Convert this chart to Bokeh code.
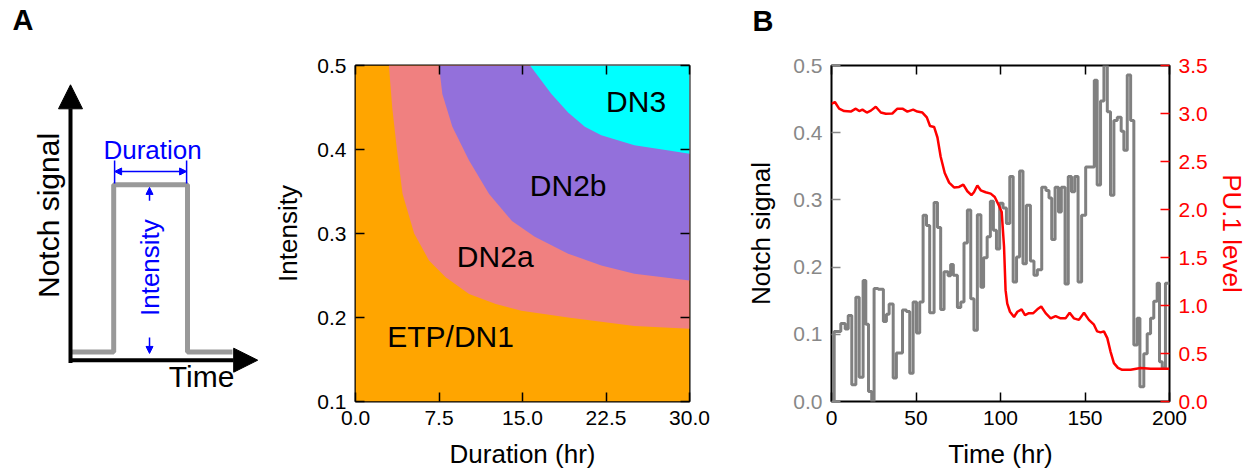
import math
from bokeh.plotting import figure
from bokeh.layouts import row
from bokeh.models import (Range1d, LinearAxis, Label, Arrow, NormalHead,
                          FixedTicker, NumeralTickFormatter)
from bokeh.core.properties import value
from bokeh.embed import file_html
from bokeh.resources import INLINE

FONT = "Liberation Sans"

# ---------------- schematic (panel A, left) ----------------
pulse_time = [0.0, 2.4, 2.4, 6.5, 6.5, 9.0]
pulse_signal = [0.2, 0.2, 6.4, 6.4, 0.2, 0.2]

# ---------------- phase diagram (panel A, right) ----------------
dur_ticks = [0.0, 7.5, 15.0, 22.5, 30.0]
int_ticks = [0.1, 0.2, 0.3, 0.4, 0.5]
# boundary ETP/DN1 | DN2a
b1_dur = [3.0, 3.3, 3.72, 4.23, 5.27, 6.6, 8.1, 10.2, 12.6, 14.9, 19.1, 25.05, 30.0]
b1_int = [0.5, 0.45, 0.4, 0.347, 0.3, 0.268, 0.248, 0.228, 0.216, 0.208, 0.2, 0.19, 0.1865]
# boundary DN2a | DN2b
b2_dur = [7.5, 7.8, 8.7, 10.2, 12.0, 14.05, 16.1, 19.1, 22.08, 25.05, 30.0]
b2_int = [0.5, 0.466, 0.427, 0.387, 0.347, 0.315, 0.296, 0.276, 0.262, 0.252, 0.244]
# boundary DN2b | DN3
b3_dur = [15.68, 17.6, 19.1, 20.6, 22.08, 25.05, 28.0, 30.0]
b3_int = [0.5, 0.466, 0.444, 0.427, 0.417, 0.405, 0.399, 0.395]
region_names = ["ETP/DN1", "DN2a", "DN2b", "DN3"]
region_dur = [8.54, 12.55, 19.1, 25.2]
region_int = [0.1774, 0.2732, 0.357, 0.4577]
region_colors = ["#FFA500", "#F08080", "#9370DB", "#00FFFF"]

# ---------------- time course (panel B) ----------------
time_ticks = [0, 50, 100, 150, 200]
notch_ticks = [0.0, 0.1, 0.2, 0.3, 0.4, 0.5]
pu1_ticks = [0.0, 0.5, 1.0, 1.5, 2.0, 2.5, 3.0, 3.5]
notch_t = [0, 1.6, 5.5, 8.1, 9.9, 12.0, 14.4, 16.4, 18.7, 20.3, 21.9, 23.8,
           25.2, 27.6, 30.7, 32.5, 34.1, 36.5, 38.4, 42.0, 44.3, 46.3, 48.3,
           50.3, 52.2, 54.2, 56.2, 58.1, 60.7, 62.7, 64.6, 66.6, 69.0, 70.5,
           72.1, 74.5, 76.5, 78.4, 80.4, 82.4, 84.3, 86.3, 88.4, 90.0, 92.1,
           94.0, 95.8, 97.6, 99.5, 101.5, 103.5, 105.5, 107.5, 109.5, 111.3,
           113.3, 115.3, 117.7, 119.8, 121.8, 124.4, 126.9, 128.7, 130.3,
           132.3, 134.3, 136.0, 138.2, 140.1, 142.0, 143.9, 145.9, 148.0,
           150.4, 155.5, 157.2, 159.2, 161.2, 163.2, 165.1, 167.1, 169.1,
           171.4, 173.0, 175.0, 177.0, 178.9, 180.9, 182.5, 184.8, 186.8,
           188.8, 190.7, 192.7, 194.1, 195.7, 197.6]
notch_v = [0.0, 0.104, 0.116, 0.108, 0.128, 0.025, 0.155, 0.036, 0.180, 0.115,
           0.015, 0.0, 0.168, 0.167, 0.119, 0.130, 0.145, 0.035, 0.072, 0.136,
           0.134, 0.042, 0.148, 0.102, 0.148, 0.277, 0.262, 0.132, 0.296,
           0.259, 0.137, 0.193, 0.187, 0.204, 0.188, 0.140, 0.148, 0.236,
           0.285, 0.153, 0.106, 0.278, 0.170, 0.214, 0.245, 0.298, 0.255,
           0.227, 0.295, 0.288, 0.265, 0.335, 0.178, 0.215, 0.343, 0.205,
           0.292, 0.209, 0.188, 0.196, 0.319, 0.314, 0.303, 0.241, 0.319,
           0.282, 0.319, 0.175, 0.335, 0.312, 0.335, 0.178, 0.277, 0.349,
           0.478, 0.322, 0.447, 0.5, 0.431, 0.307, 0.418, 0.423, 0.402,
           0.374, 0.486, 0.418, 0.084, 0.124, 0.022, 0.071, 0.101, 0.124,
           0.149, 0.176, 0.059, 0.050, 0.176]
pu1_t = [0, 2, 4.5, 7.5, 11.4, 14.4, 16.4, 18.3, 20.9, 23.3, 26.2, 29.2, 32.1,
         36, 39, 42, 44.9, 48.3, 50.8, 53.8, 56.4, 58.3, 60.7, 62.7, 64.6, 67,
         69.6, 72.5, 75.5, 78, 80.4, 82.8, 84.3, 86.3, 88.3, 91.2, 94.2, 96.6,
         99.1, 100.7, 102.1, 103, 104, 105.6, 108, 110, 112.5, 114.5, 116.8,
         119.4, 121.8, 124.1, 126.7, 129.7, 132.6, 135.6, 138.5, 140.9, 143.4,
         146.4, 149.4, 152.3, 155.3, 157.2, 159.2, 161.2, 163.2, 165.1, 167.1,
         169.5, 172, 177, 182.9, 188.8, 200]
pu1_v = [3.10, 3.12, 3.05, 3.025, 3.02, 3.05, 3.025, 3.04, 3.01, 3.03, 3.07,
         3.01, 2.997, 3.0, 3.05, 3.05, 3.02, 3.04, 3.02, 3.01, 2.96, 2.87,
         2.86, 2.75, 2.55, 2.38, 2.28, 2.23, 2.235, 2.26, 2.19, 2.15, 2.18,
         2.25, 2.2, 2.18, 2.165, 2.13, 2.04, 1.975, 1.61, 1.16, 1.02, 0.935,
         0.88, 0.935, 0.96, 0.9, 0.92, 0.92, 0.96, 0.99, 0.92, 0.866, 0.89,
         0.866, 0.866, 0.925, 0.866, 0.85, 0.925, 0.85, 0.8, 0.73, 0.72, 0.73,
         0.66, 0.52, 0.4, 0.35, 0.33, 0.33, 0.35, 0.34, 0.34]


def style_axis(ax, label_color="black", tick_color="black", show_labels=True):
    ax.axis_line_color = None
    ax.major_tick_in = 9
    ax.major_tick_out = 0
    ax.minor_tick_line_color = None
    ax.major_tick_line_color = tick_color
    ax.major_tick_line_width = 1.5
    ax.major_label_text_font = FONT
    if show_labels:
        ax.major_label_text_color = label_color
        ax.major_label_text_font_size = "21px"
        ax.major_label_standoff = 9
    else:
        ax.major_label_text_color = None
        ax.major_label_text_font_size = "1px"
        ax.major_label_standoff = 0
    ax.axis_label_text_font = FONT
    ax.axis_label_text_font_size = "26px"
    ax.axis_label_text_font_style = "normal"
    ax.axis_label_text_color = "black"


def base_fig(width, xr, yr, left, right):
    p = figure(width=width, height=471, x_range=xr, y_range=yr,
               output_backend="svg", toolbar_location=None,
               min_border_left=left, min_border_right=right,
               min_border_top=65, min_border_bottom=70)
    p.grid.visible = False
    p.outline_line_color = "black"
    p.outline_line_width = 2
    p.background_fill_color = "white"
    p.border_fill_color = "white"
    return p


def panel_title(p, letter, offset, standoff):
    # second (blank) line lifts the panel letter into the top margin
    p.title.text = letter + "\n "
    p.title.text_line_height = 0.8
    p.title.align = "left"
    p.title.offset = offset
    p.title.standoff = standoff
    p.title.vertical_align = "top"
    p.title.text_font = FONT
    p.title.text_font_size = "29px"
    p.title.text_font_style = "bold"
    p.title.text_color = "black"

# ================= Panel A schematic =================
pa = figure(width=270, height=471, x_range=Range1d(-70 / 18, 200 / 18),
            y_range=Range1d((357 - 401) / 27, (357 - 65) / 27),
            output_backend="svg", toolbar_location=None,
            x_axis_type=None, y_axis_type=None,
            min_border_left=0, min_border_right=0,
            min_border_top=65, min_border_bottom=70)
pa.grid.visible = False
pa.outline_line_color = None
panel_title(pa, "A", 12, 4)
pa.line(pulse_time, pulse_signal, line_color="#999999", line_width=5)
pa.add_layout(Arrow(end=NormalHead(size=24, fill_color="black", line_color="black"),
                    x_start=0, y_start=-0.1, x_end=10.4, y_end=-0.1,
                    line_width=4, line_color="black"))
pa.add_layout(Arrow(end=NormalHead(size=24, fill_color="black", line_color="black"),
                    x_start=0, y_start=-0.2, x_end=0, y_end=10.1,
                    line_width=4, line_color="black"))
blue = "#0000FF"
pa.add_layout(Arrow(start=NormalHead(size=7, fill_color=blue, line_color=blue),
                    end=NormalHead(size=7, fill_color=blue, line_color=blue),
                    x_start=2.45, y_start=6.89, x_end=6.45, y_end=6.89,
                    line_width=1.5, line_color=blue))
pa.segment(x0=[2.45, 6.45], y0=[6.44, 6.44], x1=[2.45, 6.45], y1=[7.3, 7.3],
           line_color=blue, line_width=1.5)
pa.add_layout(Arrow(end=NormalHead(size=7, fill_color=blue, line_color=blue),
                    x_start=4.39, y_start=5.81, x_end=4.39, y_end=6.3,
                    line_width=1.5, line_color=blue))
pa.add_layout(Arrow(end=NormalHead(size=7, fill_color=blue, line_color=blue),
                    x_start=4.39, y_start=0.74, x_end=4.39, y_end=0.15,
                    line_width=1.5, line_color=blue))
pa.add_layout(Label(x=4.56, y=7.70, text="Duration", text_align="center",
                    text_baseline="middle", text_font=FONT,
                    text_font_size="26px", text_color=blue))
pa.add_layout(Label(x=4.39, y=3.33, text="Intensity", text_align="center",
                    text_baseline="middle", angle=math.pi / 2, text_font=FONT,
                    text_font_size="26px", text_color=blue))
pa.add_layout(Label(x=-1.22, y=5.26, text="Notch signal", text_align="center",
                    text_baseline="middle", angle=math.pi / 2, text_font=FONT,
                    text_font_size="30px", text_color="black"))
pa.add_layout(Label(x=7.28, y=-0.70, text="Time", text_align="center",
                    text_baseline="middle", text_font=FONT,
                    text_font_size="30px", text_color="black"))

# ================= Panel A phase diagram =================
pm = base_fig(470, Range1d(0, 30), Range1d(0.1, 0.5), 83, 51)
pm.quad(left=[0], right=[30], bottom=[0.1], top=[0.5],
        fill_color=region_colors[0], line_color=None)
for bd, bi, col in [(b1_dur, b1_int, region_colors[1]),
                    (b2_dur, b2_int, region_colors[2]),
                    (b3_dur, b3_int, region_colors[3])]:
    xs = list(bd) + [30.0]
    ys = list(bi) + [0.5]
    pm.patch(xs, ys, fill_color=col, line_color=None)
pm.text(x=region_dur, y=region_int, text=region_names, text_align="center",
        text_baseline="middle", text_font=value(FONT),
        text_font_size="30px", text_color="black")
pm.xaxis.ticker = FixedTicker(ticks=dur_ticks)
pm.yaxis.ticker = FixedTicker(ticks=int_ticks)
pm.xaxis.formatter = NumeralTickFormatter(format="0.0")
pm.yaxis.formatter = NumeralTickFormatter(format="0.0")
pm.xaxis.axis_label = "Duration (hr)"
pm.yaxis.axis_label = "Intensity"
style_axis(pm.xaxis[0])
style_axis(pm.yaxis[0])
pm.xaxis.axis_label_standoff = 11
pm.yaxis.axis_label_standoff = 11
top_m = LinearAxis(ticker=FixedTicker(ticks=dur_ticks))
style_axis(top_m, show_labels=False)
pm.add_layout(top_m, "above")
right_m = LinearAxis(ticker=FixedTicker(ticks=int_ticks))
style_axis(right_m, show_labels=False)
pm.add_layout(right_m, "right")

# ================= Panel B =================
pb = base_fig(516, Range1d(0, 200), Range1d(0, 0.5), 91, 87)
panel_title(pb, "B", -79, 2)
pb.extra_y_ranges = {"pu1": Range1d(0, 3.5)}
step_x = list(notch_t) + [200]
step_y = list(notch_v) + [notch_v[-1]]
pb.step(step_x, step_y, mode="after", line_color="#808080", line_width=3)
pb.line(pu1_t, pu1_v, y_range_name="pu1", line_color="#FF0000", line_width=2.5)
pb.xaxis.ticker = FixedTicker(ticks=time_ticks)
pb.yaxis.ticker = FixedTicker(ticks=notch_ticks)
pb.yaxis.formatter = NumeralTickFormatter(format="0.0")
pb.xaxis.axis_label = "Time (hr)"
pb.yaxis.axis_label = "Notch signal"
style_axis(pb.xaxis[0])
style_axis(pb.yaxis[0], label_color="#888888", tick_color="#888888")
pb.xaxis.axis_label_standoff = 11
pb.yaxis.axis_label_standoff = 14
top_b = LinearAxis(ticker=FixedTicker(ticks=time_ticks))
style_axis(top_b, show_labels=False)
pb.add_layout(top_b, "above")
right_b = LinearAxis(y_range_name="pu1", ticker=FixedTicker(ticks=pu1_ticks),
                     formatter=NumeralTickFormatter(format="0.0"),
                     axis_label="PU.1 level")
style_axis(right_b, label_color="#FF0000", tick_color="#FF0000")
right_b.axis_label_text_color = "#FF0000"
right_b.axis_label_standoff = 6
pb.add_layout(right_b, "right")

layout = row(pa, pm, pb, spacing=0)
open("out.html", "w").write(file_html(layout, INLINE))
